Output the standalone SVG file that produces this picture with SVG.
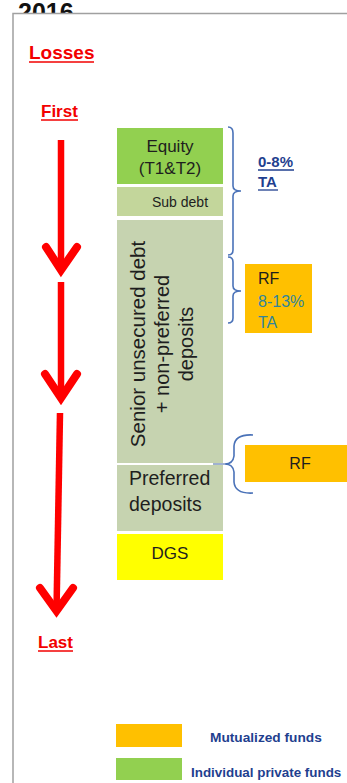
<svg xmlns="http://www.w3.org/2000/svg" width="347" height="783" viewBox="0 0 347 783">
<style>
.t{font-family:"Liberation Sans",Arial,sans-serif;}
.red{fill:#f20000;font-weight:bold;}
.box{fill:#1e1e1e;}
.brace{fill:none;stroke:#4a72b8;stroke-width:1.6;}
.arr{fill:none;stroke:#ff0000;stroke-width:6.5;}
.head{fill:none;stroke:#ff0000;stroke-width:8;stroke-linecap:round;stroke-linejoin:miter;}
.ul{stroke:#f20000;stroke-width:1.6;}
.blue{fill:#1f3f8f;font-weight:bold;}
.teal{fill:#31859c;}
</style>
<rect x="0" y="0" width="347" height="783" fill="#ffffff"/>
<text class="t" x="18" y="21" font-size="25" font-weight="bold" fill="#111">2016</text>
<rect id="frame" x="13" y="13.5" width="345" height="780" fill="#ffffff" stroke="#a0a0a0" stroke-width="1.5"/>

<g id="label-losses">
<text class="t red" x="29" y="58.5" font-size="19">Losses</text>
<line class="ul" x1="29" y1="62" x2="94" y2="62"/>
</g>
<g id="label-first">
<text class="t red" x="41" y="117" font-size="17">First</text>
<line class="ul" x1="41" y1="120" x2="78" y2="120"/>
</g>
<g id="label-last">
<text class="t red" x="38" y="648" font-size="17">Last</text>
<line class="ul" x1="38" y1="651" x2="73" y2="651"/>
</g>

<g id="connectors">
<path class="arr" d="M61,140 L61,270"/>
<path class="head" d="M46,247 L61,270 L77,247"/>
<path class="arr" d="M61,282 L61,398"/>
<path class="head" d="M45,374 L61,398 L77,374"/>
<path class="arr" d="M60,413 L56.5,611"/>
<path class="head" d="M40,588 L56.5,611 L73,588"/>
</g>

<g id="equity">
<rect x="117" y="128" width="106" height="56" fill="#92d050"/>
<text class="t box" x="170" y="152" font-size="17" text-anchor="middle">Equity</text>
<text class="t box" x="170" y="174" font-size="17" text-anchor="middle">(T1&amp;T2)</text>
</g>
<g id="subdebt">
<rect x="117" y="187" width="106" height="29" fill="#c3d69b"/>
<text class="t box" x="180" y="207" font-size="14" text-anchor="middle" fill="#333">Sub debt</text>
</g>
<g id="senior">
<rect x="117" y="220" width="106" height="243" fill="#c6d3b0"/>
<g transform="translate(0,344)">
<text class="t box" transform="translate(145,0) rotate(-90)" font-size="20.5" text-anchor="middle">Senior unsecured debt</text>
<text class="t box" transform="translate(169,0) rotate(-90)" font-size="20" text-anchor="middle">+ non-preferred</text>
<text class="t box" transform="translate(193,0) rotate(-90)" font-size="20" text-anchor="middle">deposits</text>
</g>
</g>
<g id="preferred">
<rect x="117" y="465" width="106" height="66" fill="#c6d3b0"/>
<text class="t box" x="129" y="485" font-size="19.5">Preferred</text>
<text class="t box" x="129" y="511" font-size="19.5">deposits</text>
</g>
<g id="dgs">
<rect x="117" y="534" width="106" height="46" fill="#ffff00"/>
<text class="t box" x="170" y="559" font-size="17" text-anchor="middle">DGS</text>
</g>

<g id="braces">
<path class="brace" d="M228,127 Q233,127 233,133 V186 Q233,191 241,191 Q233,191 233,196 V250 Q233,255 228,255"/>
<path class="brace" d="M228,257 Q233,257 233,262 V286 Q233,291 241,291 Q233,291 233,296 V318 Q233,323 228,323"/>
<path class="brace" d="M253,435 Q235,434 234,446 V456 Q233,464 225,464 Q233,464 234,472 V482 Q235,494 253,493"/>
<line x1="213" y1="464" x2="225" y2="464" stroke="#7f97c0" stroke-width="1.5"/>
</g>

<g id="label-0-8">
<text class="t blue" x="258" y="167" font-size="15">0-8%</text>
<line x1="258" y1="170" x2="294" y2="170" stroke="#1f3f8f" stroke-width="1.3"/>
<text class="t blue" x="258" y="187" font-size="15">TA</text>
<line x1="258" y1="190" x2="278" y2="190" stroke="#1f3f8f" stroke-width="1.3"/>
</g>

<g id="rf1">
<rect x="245" y="264" width="67" height="69" fill="#ffc000"/>
<text class="t box" x="258" y="284" font-size="16">RF</text>
<text class="t teal" x="258" y="307" font-size="16">8-13%</text>
<text class="t teal" x="258" y="328" font-size="16">TA</text>
</g>
<g id="rf2">
<rect x="245" y="445" width="105" height="37" fill="#ffc000"/>
<text class="t box" x="300" y="469" font-size="16" text-anchor="middle">RF</text>
</g>

<g id="legend-mutualized">
<rect x="116" y="724" width="66" height="23" fill="#ffc000"/>
<text class="t blue" x="210" y="742" font-size="13.7">Mutualized funds</text>
</g>
<g id="legend-individual">
<rect x="116" y="758" width="66" height="22" fill="#92d050"/>
<text class="t blue" x="191" y="777" font-size="13.4">Individual private funds</text>
</g>
</svg>
